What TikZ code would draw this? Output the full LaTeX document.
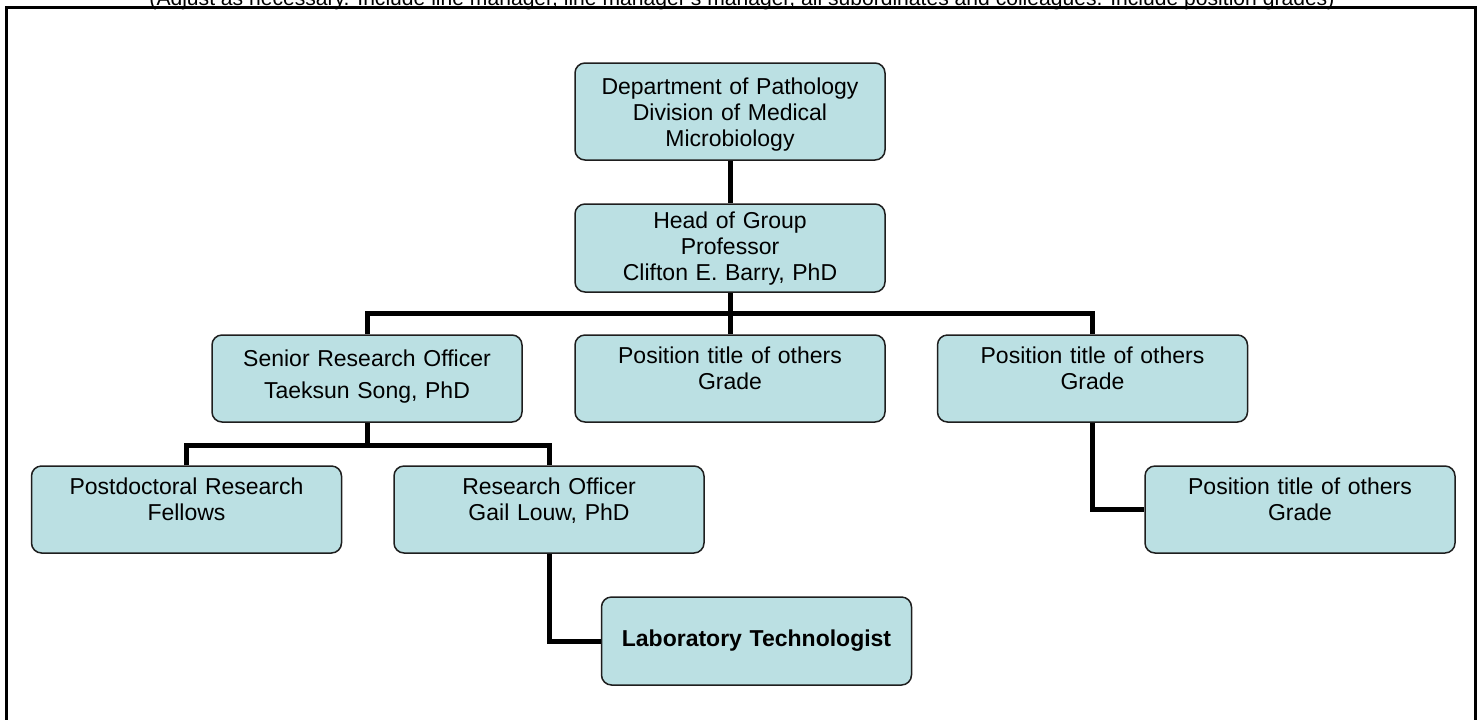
\documentclass[tikz,border=0pt]{standalone}
\usepackage{fontspec}
\setmainfont{Liberation Sans}
\usetikzlibrary{positioning}
\definecolor{boxfill}{RGB}{187,224,227}
\definecolor{boxline}{RGB}{30,30,30}
\tikzset{
  orgbox/.style={draw=boxline, line width=0.75pt, fill=boxfill, rounded corners=5pt,
    align=center, text width=150pt, inner xsep=2.5pt, inner ysep=0pt,
    font=\fontsize{11.5}{13}\selectfont, text height=14pt, text depth=29.5pt},
  link/.style={line width=2.5pt, line join=miter},
  frame/.style={line width=1.5pt},
}
\begin{document}
\begin{tikzpicture}[x=0.5pt, y=-0.5pt]
\useasboundingbox (0,0) rectangle (1483,719);
\clip (0,0) rectangle (1483,719);
\node[anchor=base, inner sep=0pt, font=\fontsize{10.55}{12}\selectfont] (note) at (742,5)
  {(Adjust as necessary. Include line manager, line manager's manager, all subordinates and colleagues. Include position grades)};
\draw[frame] (6.5,730) -- (6.5,7) -- (1475,7) -- (1475,730);

\node[orgbox, text height=15.5pt, text depth=33pt] (dept) at (730,111.5) {Department of Pathology\\Division of Medical\\Microbiology};
\node[orgbox, text height=12pt, text depth=32pt] (head) at (730,248) {Head of Group\\Professor\\Clifton E. Barry, PhD};
\node[orgbox, text height=15.5pt, text depth=28pt] (senior) at (367,378.5) {Senior Research Officer\\[3pt]Taeksun Song, PhD};
\node[orgbox] (other1) at (730,378.5) {Position title of others\\Grade};
\node[orgbox] (other2) at (1092.5,378.5) {Position title of others\\Grade};
\node[orgbox] (postdoc) at (186.5,509.5) {Postdoctoral Research\\Fellows};
\node[orgbox] (officer) at (549,509.5) {Research Officer\\Gail Louw, PhD};
\node[orgbox] (other3) at (1300,509.5) {Position title of others\\Grade};
\node[orgbox, text height=, text depth=, minimum height=44pt, font=\fontsize{11.5}{13}\selectfont\bfseries] (labtech) at (756.5,641) {Laboratory Technologist};

\coordinate (bus1) at (730,313);
\coordinate (bus2) at (367,445);
\draw[link] (dept) -- (head);
\draw[link] (head) -- (bus1) -- (other1);
\draw[link] (senior.north) |- (bus1) -| (other2.north);
\draw[link] (senior) -- (bus2);
\draw[link] (postdoc.north) |- (bus2) -| (officer.north);
\draw[link] (officer.south) |- (labtech.west);
\draw[link] (other2.south) |- (other3.west);
\end{tikzpicture}
\end{document}
